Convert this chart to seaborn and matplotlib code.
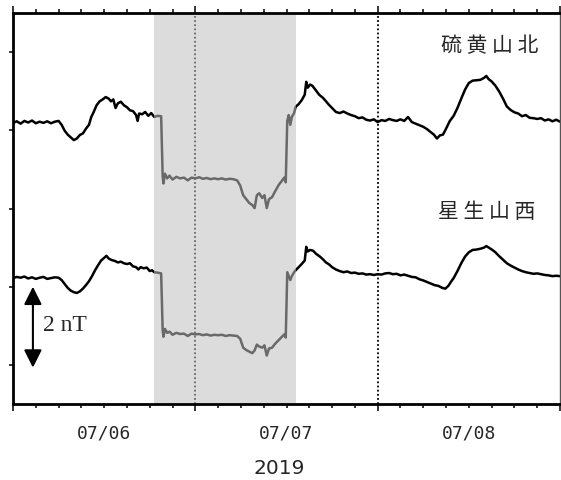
import numpy as np
import pandas as pd
import matplotlib
matplotlib.use("Agg")
import matplotlib.pyplot as plt
import seaborn as sns

# ==============================================================================: DATA
# hours since 2019-07-06 00:00, field variation in nT (relative to station baseline)
iou_hours = [0.0, 0.5, 1.0, 1.5, 2.0, 2.5, 3.0, 3.5, 4.0, 4.5, 5.0, 5.5, 6.0, 6.4, 6.8,
             7.2, 7.6, 8.0, 8.4, 8.8, 9.2, 9.6, 10.0, 10.3, 10.6, 11.0, 11.4, 11.8,
             12.2, 12.6, 12.9, 13.2, 13.5, 13.8, 14.2, 14.6, 15.0, 15.4, 15.8, 16.2,
             16.4, 16.6, 17.0, 17.4, 17.8, 18.2, 18.6, 19.0, 19.5, 19.7, 19.8, 20.0,
             20.3, 20.6, 21.0, 21.5, 22.0, 22.5, 23.0, 23.5, 24.0, 24.5, 25.0, 25.5,
             26.0, 26.5, 27.0, 27.5, 28.0, 28.5, 29.0, 29.5, 29.9, 30.3, 30.7, 31.1,
             31.5, 31.8, 32.1, 32.4, 32.8, 33.1, 33.4, 33.7, 34.1, 34.5, 35.0, 35.4,
             35.7, 35.9, 36.1, 36.3, 36.5, 36.7, 37.0, 37.2, 37.6, 38.0, 38.4, 38.6,
             38.8, 39.1, 39.4, 39.8, 40.3, 40.8, 41.2, 41.6, 42.0, 42.5, 43.0, 43.5,
             44.0, 44.5, 45.0, 45.5, 46.0, 46.5, 47.0, 47.5, 48.0, 48.5, 49.0, 49.5,
             50.0, 50.5, 51.0, 51.5, 52.0, 52.5, 53.0, 53.5, 54.0, 54.5, 55.0, 55.4,
             55.8, 56.2, 56.6, 57.0, 57.5, 58.0, 58.5, 59.0, 59.5, 60.0, 60.5, 61.0,
             61.5, 62.0, 62.3, 62.6, 63.0, 63.5, 64.0, 64.5, 65.0, 65.5, 66.0, 66.5,
             67.0, 67.5, 68.0, 68.5, 69.0, 69.5, 70.0, 70.5, 71.0, 71.5, 72.0]
iou_values = [0.00, 0.04, -0.02, 0.05, 0.01, 0.06, -0.01, 0.03, 0.00, 0.04, -0.01,
              0.03, 0.05, -0.05, -0.20, -0.30, -0.37, -0.44, -0.40, -0.31, -0.27,
              -0.15, -0.05, 0.15, 0.27, 0.45, 0.55, 0.60, 0.66, 0.62, 0.55, 0.60,
              0.38, 0.50, 0.54, 0.45, 0.40, 0.32, 0.30, 0.20, 0.05, 0.24, 0.22, 0.28,
              0.18, 0.25, 0.15, 0.18, 0.17, -1.36, -1.55, -1.30, -1.42, -1.35, -1.45,
              -1.38, -1.42, -1.40, -1.47, -1.40, -1.42, -1.39, -1.43, -1.41, -1.44,
              -1.42, -1.44, -1.42, -1.45, -1.43, -1.44, -1.47, -1.60, -1.85, -1.95,
              -2.05, -2.10, -2.18, -1.85, -1.80, -1.92, -1.85, -2.18, -1.95, -1.90,
              -1.75, -1.58, -1.48, -1.40, -1.52, 0.05, 0.20, -0.05, 0.15, 0.25, 0.41,
              0.48, 0.58, 0.72, 1.05, 0.90, 0.98, 0.95, 0.85, 0.72, 0.64, 0.55, 0.46,
              0.38, 0.28, 0.25, 0.29, 0.24, 0.20, 0.17, 0.12, 0.14, 0.08, 0.06, 0.09,
              0.02, 0.07, 0.05, 0.10, 0.07, 0.05, 0.09, 0.05, 0.15, 0.02, -0.02,
              -0.06, -0.10, -0.16, -0.24, -0.30, -0.40, -0.32, -0.30, -0.15, 0.05,
              0.18, 0.38, 0.62, 0.85, 1.02, 1.08, 1.09, 1.10, 1.15, 1.20, 1.12, 1.06,
              0.95, 0.80, 0.62, 0.42, 0.33, 0.27, 0.24, 0.17, 0.20, 0.13, 0.12, 0.10,
              0.12, 0.06, 0.09, 0.04, 0.08, 0.03]

hoshi_hours = [0.0, 0.5, 1.0, 1.5, 2.0, 2.5, 3.0, 3.5, 4.0, 4.5, 5.0, 5.5, 6.0, 6.4,
               6.8, 7.2, 7.6, 8.0, 8.4, 8.8, 9.2, 9.6, 10.0, 10.4, 10.8, 11.2, 11.6,
               12.0, 12.3, 12.6, 13.0, 13.4, 13.8, 14.2, 14.6, 15.0, 15.4, 15.8, 16.2,
               16.5, 16.8, 17.2, 17.6, 18.0, 18.3, 18.6, 19.0, 19.5, 19.7, 19.8, 20.0,
               20.3, 20.6, 21.0, 21.5, 22.0, 22.5, 23.0, 23.5, 24.0, 24.5, 25.0, 25.5,
               26.0, 26.5, 27.0, 27.5, 28.0, 28.5, 29.0, 29.5, 29.9, 30.3, 30.7, 31.1,
               31.5, 31.8, 32.1, 32.4, 32.8, 33.1, 33.4, 33.7, 34.1, 34.5, 35.0, 35.4,
               35.7, 35.9, 36.1, 36.3, 36.5, 36.7, 37.0, 37.2, 37.6, 38.0, 38.4, 38.6,
               38.8, 39.1, 39.5, 39.9, 40.4, 40.8, 41.2, 41.6, 42.0, 42.5, 43.0, 43.5,
               44.0, 44.5, 45.0, 45.5, 46.0, 46.5, 47.0, 47.5, 48.0, 48.5, 49.0, 49.5,
               50.0, 50.5, 51.0, 51.5, 52.0, 52.5, 53.0, 53.5, 54.0, 54.5, 55.0, 55.5,
               56.0, 56.5, 56.9, 57.3, 57.7, 58.0, 58.5, 59.0, 59.5, 60.0, 60.5, 61.0,
               61.5, 62.0, 62.3, 62.7, 63.1, 63.5, 64.0, 64.5, 65.0, 65.5, 66.0, 66.5,
               67.0, 67.5, 68.0, 68.5, 69.0, 69.5, 70.0, 70.5, 71.0, 71.5, 72.0]
hoshi_values = [0.00, 0.03, 0.01, 0.04, -0.01, 0.02, -0.02, 0.01, 0.03, -0.02, 0.00,
                0.02, 0.01, -0.05, -0.15, -0.25, -0.32, -0.36, -0.38, -0.34, -0.27,
                -0.18, -0.08, 0.05, 0.20, 0.33, 0.45, 0.52, 0.57, 0.50, 0.46, 0.44,
                0.40, 0.42, 0.38, 0.36, 0.38, 0.30, 0.28, 0.22, 0.28, 0.25, 0.27, 0.18,
                0.20, 0.15, 0.14, 0.12, -1.33, -1.50, -1.30, -1.40, -1.37, -1.45, -1.40,
                -1.43, -1.42, -1.48, -1.42, -1.44, -1.43, -1.46, -1.44, -1.47, -1.45,
                -1.46, -1.45, -1.48, -1.46, -1.47, -1.48, -1.55, -1.78, -1.84, -1.88,
                -1.92, -1.85, -1.70, -1.75, -1.78, -1.72, -1.98, -1.80, -1.78, -1.68,
                -1.58, -1.50, -1.44, -1.52, 0.15, 0.05, -0.05, 0.05, 0.15, 0.20, 0.28,
                0.36, 0.45, 0.80, 0.68, 0.72, 0.70, 0.62, 0.55, 0.48, 0.40, 0.35, 0.28,
                0.22, 0.18, 0.15, 0.17, 0.13, 0.14, 0.11, 0.12, 0.09, 0.10, 0.08, 0.10,
                0.09, 0.12, 0.13, 0.10, 0.11, 0.07, 0.09, 0.06, 0.03, 0.02, -0.03,
                -0.06, -0.10, -0.14, -0.18, -0.20, -0.25, -0.27, -0.20, -0.08, 0.00,
                0.18, 0.38, 0.55, 0.66, 0.72, 0.73, 0.75, 0.78, 0.82, 0.77, 0.72, 0.66,
                0.56, 0.47, 0.38, 0.32, 0.27, 0.22, 0.18, 0.15, 0.13, 0.11, 0.12, 0.10,
                0.08, 0.07, 0.05, 0.06, 0.05]

stations = ["硫黄山北", "星生山西"]
station_offsets = [7.19, 3.22]   # vertical stacking of the traces
day_labels = ["07/06", "07/07", "07/08"]
year_label = "2019"
shade_span = (18.6, 37.2)        # hours
scale_bar = (0.93, 3.0)          # 2 nT bar

# ==============================================================================: PLOT
sns.set_style("ticks")
plt.rcParams["font.family"] = ["DejaVu Sans"]

rows = []
for name, off, hrs, vals in zip(stations, station_offsets,
                                [iou_hours, hoshi_hours], [iou_values, hoshi_values]):
    for h, v in zip(hrs, vals):
        rows.append({"station": name, "hour": h, "value": v + off})
df = pd.DataFrame(rows)

fig = plt.figure(figsize=(5.61, 4.80), dpi=100)
ax = fig.add_axes([13 / 561, 1 - 404 / 480, 547 / 561, 391 / 480])

for name in stations:
    sub = df[df["station"] == name]
    sns.lineplot(data=sub, x="hour", y="value", ax=ax, color="black",
                 linewidth=1.8, estimator=None, sort=False, legend=False)

# midnight markers
for d in [24, 48]:
    ax.axvline(d, color="black", linestyle=(0, (1, 1.3)), linewidth=1.3, zorder=1)

# shaded interval drawn over the traces so they read grey
ax.axvspan(*shade_span, color="#c0c0c0", alpha=0.55, lw=0, zorder=3)

ax.set_xlim(0, 72)
ax.set_ylim(0, 10)
ax.set_xlabel("")
ax.set_ylabel("")

ax.set_yticks([1, 3, 5, 7, 9])
ax.set_yticklabels([])
ax.set_xticks([0, 24, 48, 72])
ax.set_xticklabels([])
minor = list(range(0, 73, 3))
minor_lbl = [day_labels[(h - 12) // 24] if h % 24 == 12 else "" for h in minor]
ax.set_xticks(minor, labels=minor_lbl, minor=True)
for lbl in ax.get_xticklabels(minor=True):
    lbl.set_family("DejaVu Sans Mono")

ax.tick_params(axis="x", which="major", direction="out", length=5, width=1.3,
               top=True, bottom=True)
ax.tick_params(axis="x", which="minor", direction="out", length=3, width=1.3,
               top=True, bottom=True, labelsize=13, pad=12)
ax.tick_params(axis="y", which="major", direction="out", length=3, width=1.3,
               left=True, right=False)

for side in ["left", "bottom", "top"]:
    ax.spines[side].set_linewidth(2)
    ax.spines[side].set_color("black")
    ax.spines[side].set_zorder(5)
ax.spines["right"].set_linewidth(1)
ax.spines["right"].set_color("#555555")

# station names, spaced out like the original
cjk = ["Noto Sans CJK JP", "DejaVu Sans"]
ax.text(62.8, 9.16, " ".join(stations[0]), ha="center", va="center", fontsize=15,
        family=cjk)
ax.text(62.3, 4.91, " ".join(stations[1]), ha="center", va="center", fontsize=15,
        family=cjk)

# scale bar
ax.annotate("", xy=(2.62, scale_bar[0]), xytext=(2.62, scale_bar[1]),
            arrowprops=dict(arrowstyle="<|-|>", mutation_scale=27, lw=1.5,
                            color="black", shrinkA=0, shrinkB=0))
ax.text(3.9, 2.0, "2 nT", ha="left", va="center", fontsize=17,
        family="Liberation Serif")

fig.text(279 / 561, 1 - 468 / 480, year_label, ha="center", va="center", fontsize=14.5)

fig.savefig("out.png", dpi=100)
